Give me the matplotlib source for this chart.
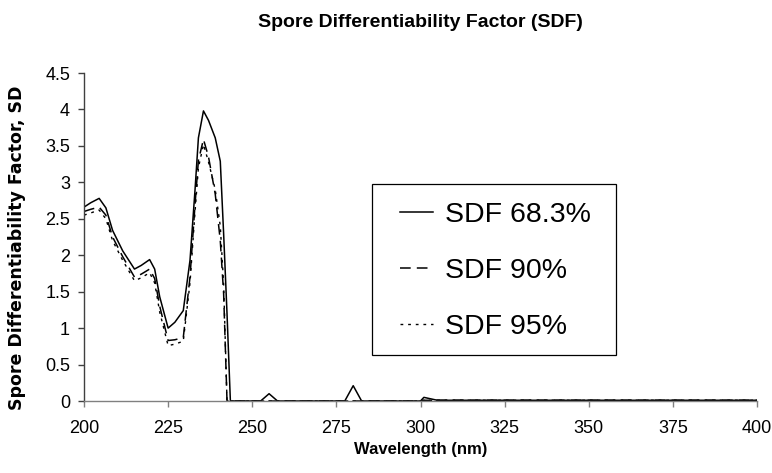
# Spore Differentiability Factor vs wavelength, three confidence levels
import matplotlib
matplotlib.use('Agg')
import matplotlib.pyplot as plt
from matplotlib.ticker import MultipleLocator, FormatStrFormatter
from matplotlib.transforms import Bbox
from matplotlib.patches import Rectangle

plt.rcParams['font.family'] = ['Liberation Sans', 'DejaVu Sans']

# values
wl = [200, 202, 204.5, 206.5, 208.5, 211.5, 215, 217, 219.5, 221, 222.5,
      225, 227, 229.5, 231.5, 233, 234, 235.5, 237, 239, 240.5, 241.5,
      242.5, 243.5, 245, 252.5, 255, 257.5, 277.5, 280, 282.5, 300,
      301, 303, 305, 400]
sdf683 = [2.66, 2.72, 2.78, 2.65, 2.34, 2.06, 1.81, 1.86, 1.94, 1.81, 1.43,
          1.00, 1.08, 1.24, 1.93, 2.90, 3.61, 3.98, 3.85, 3.61, 3.29, 2.29,
          1.20, 0.0, 0.0, 0.0, 0.10, 0.0, 0.0, 0.21, 0.0, 0.0,
          0.05, 0.03, 0.01, 0.01]
sdf90 = [2.60, 2.63, 2.66, 2.55, 2.25, 1.98, 1.70, 1.74, 1.81, 1.68, 1.30,
         0.83, 0.84, 0.87, 1.70, 2.70, 3.30, 3.59, 3.35, 2.84, 2.20, 1.47,
         0.0, 0.0, 0.0, 0.0, 0.0, 0.0, 0.0, 0.0, 0.0, 0.0,
         0.01, 0.01, 0.01, 0.01]
sdf95 = [2.55, 2.58, 2.62, 2.50, 2.20, 1.93, 1.65, 1.69, 1.76, 1.62, 1.22,
         0.76, 0.78, 0.82, 1.62, 2.60, 3.20, 3.52, 3.28, 2.90, 2.40, 1.60,
         0.0, 0.0, 0.0, 0.0, 0.0, 0.0, 0.0, 0.0, 0.0, 0.0,
         0.01, 0.01, 0.01, 0.01]
labels = ['SDF 68.3%', 'SDF 90%', 'SDF 95%']

W, H = 772, 473
fig = plt.figure(figsize=(W / 100, H / 100), dpi=100)
ax = fig.add_axes([84 / W, 1 - 401 / H, (757 - 84) / W, (401 - 73) / H])

ax.plot(wl, sdf683, color='black', lw=1.1, ls='-', label=labels[0])
ax.plot(wl, sdf90, color='black', lw=1.1, ls=(0, (7, 4)), label=labels[1])
ax.plot(wl, sdf95, color='black', lw=1.0, ls=(0, (2, 3.5)), label=labels[2])

ax.set_xlim(200, 400)
ax.set_ylim(0, 4.5)
ax.xaxis.set_major_locator(MultipleLocator(25))
ax.yaxis.set_major_locator(MultipleLocator(0.5))
ax.yaxis.set_major_formatter(FormatStrFormatter('%g'))
ax.tick_params(axis='x', labelsize=13, length=4, width=1.0, colors='#808080',
               labelcolor='black', pad=10)
ax.tick_params(axis='y', labelsize=13, length=4, width=1.0, colors='#404040',
               labelcolor='black', pad=6)
ax.spines['top'].set_visible(False)
ax.spines['right'].set_visible(False)
ax.spines['left'].set_color('#404040')
ax.spines['bottom'].set_color('#808080')
ax.spines['left'].set_linewidth(1.0)
ax.spines['bottom'].set_linewidth(1.0)
ax.spines['bottom'].set_zorder(3)

ax.set_xlabel('Wavelength (nm)', fontsize=12, fontweight='bold', labelpad=3)
fig.text(420 / W, 1 - 27 / H, 'Spore Differentiability Factor (SDF)',
         fontsize=14, fontweight='bold', ha='center', va='baseline')

# y label, cut off at the top like the original
yl = fig.text(17.5 / W, 1 - 410 / H, 'Spore Differentiability Factor, SDF',
              rotation=90, ha='center', va='bottom', fontsize=12.5,
              fontweight='bold', family='DejaVu Sans')
yl.set_clip_box(Bbox.from_extents(0, 0, 40, H - 86))

# legend box drawn by hand, entries placed inside it
ax.add_patch(Rectangle((372 / W, 1 - 355 / H), (616 - 372) / W,
                       (355 - 184) / H, transform=fig.transFigure,
                       facecolor='white', edgecolor='black', lw=0.9,
                       zorder=4, clip_on=False))
leg = ax.legend(loc='center left', bbox_to_anchor=(400 / W, 1 - 271 / H),
                bbox_transform=fig.transFigure, fontsize=20.5, frameon=False,
                handlelength=1.16, handletextpad=0.42, labelspacing=1.07,
                borderpad=0, borderaxespad=0)
leg.set_zorder(5)

fig.savefig('out.png', dpi=100)
